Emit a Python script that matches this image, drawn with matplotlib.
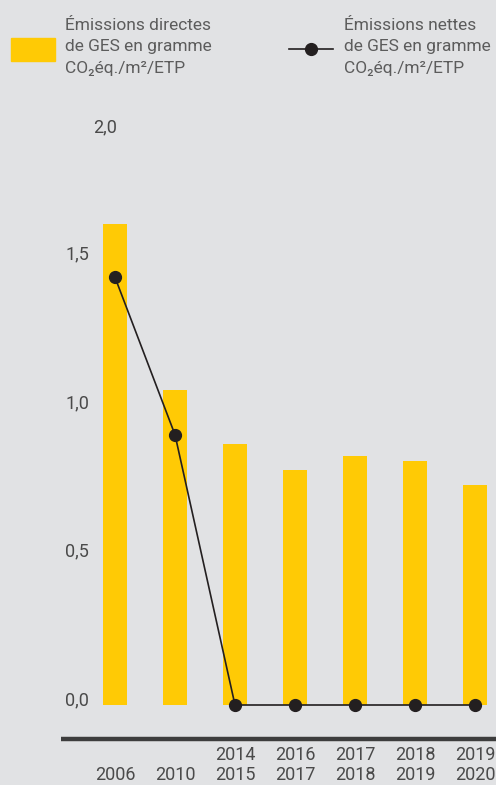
import matplotlib.pyplot as plt
from matplotlib.patches import Rectangle
from matplotlib.lines import Line2D

# data
periodes_haut = ["", "", "2014", "2016", "2017", "2018", "2019"]
periodes_bas = ["2006", "2010", "2015", "2017", "2018", "2019", "2020"]
emissions_directes = [1.62, 1.06, 0.88, 0.79, 0.84, 0.82, 0.74]
emissions_nettes = [1.44, 0.91, 0.0, 0.0, 0.0, 0.0, 0.0]
yticks = [0.0, 0.5, 1.0, 1.5]
ytick_labels = ["0,0", "0,5", "1,0", "1,5"]

W, H = 496, 785
bg = "#e1e2e4"
jaune = "#ffca05"
noir = "#231f20"
gris = "#4a4a4a"
plt.rcParams['font.family'] = ['Roboto', 'DejaVu Sans']

fig = plt.figure(figsize=(W / 100, H / 100), dpi=100, facecolor=bg)
ax = fig.add_axes([0, 0, 1, 1])
ax.set_facecolor(bg)

# pixel mapping: x=0 at 115px, 60px per step ; y=0 at 80px from bottom, 297px per unit
px_x, x0 = 60.0, 115.0
px_y, y0 = 297.0, 80.0
ax.set_xlim(-x0 / px_x, (W - x0) / px_x)
ax.set_ylim(-y0 / px_y, (H - y0) / px_y)
ax.axis("off")

def ydat(top):
    # pixel from top -> data
    return (H - top - y0) / px_y

x = list(range(len(emissions_directes)))
ax.bar(x, emissions_directes, width=0.4, color=jaune, zorder=1)
ax.plot(x, emissions_nettes, color=noir, lw=1.2, marker="o", ms=8.5,
        markerfacecolor=noir, markeredgecolor=noir, zorder=3, clip_on=False)

# y labels
for v, lab in zip(yticks, ytick_labels):
    ax.text(-26 / px_x, v + 5 / px_y, lab, ha="right", va="center",
            fontsize=13, color=gris)
ax.text(2 / px_x, ydat(127), "2,0", ha="right", va="center",
        fontsize=13, color=gris)

# baseline
ax.plot([(61 - x0) / px_x, (W - x0) / px_x], [ydat(739)] * 2,
        color="#3d3d3d", lw=3.2, solid_capstyle="butt", clip_on=False)

# x labels
for xi, h, b in zip(x, periodes_haut, periodes_bas):
    if h:
        ax.text(xi, ydat(755), h, ha="center", va="center", fontsize=13, color=gris)
    ax.text(xi, ydat(775), b, ha="center", va="center", fontsize=13, color=gris)

# legend
fig.patches.append(Rectangle((11 / W, 1 - 61 / H), 44 / W, 23 / H,
                             transform=fig.transFigure, color=jaune))
fig.lines.append(Line2D([289 / W, 333 / W], [1 - 49 / H] * 2, transform=fig.transFigure,
                        color=noir, lw=1.2))
fig.lines.append(Line2D([311 / W], [1 - 49 / H], transform=fig.transFigure,
                        marker="o", ms=8.5, color=noir))
leg1 = ["Émissions directes", "de GES en gramme", "CO₂éq./m²/ETP"]
leg2 = ["Émissions nettes", "de GES en gramme", "CO₂éq./m²/ETP"]
for i, (a, b) in enumerate(zip(leg1, leg2)):
    yy = 1 - (25 + 22 * i) / H
    fig.text(65 / W, yy, a, ha="left", va="center", fontsize=12.5, color="#5c5c5c")
    fig.text(344 / W, yy, b, ha="left", va="center", fontsize=12.5, color="#5c5c5c")

fig.savefig("out.png", dpi=100, facecolor=bg)
